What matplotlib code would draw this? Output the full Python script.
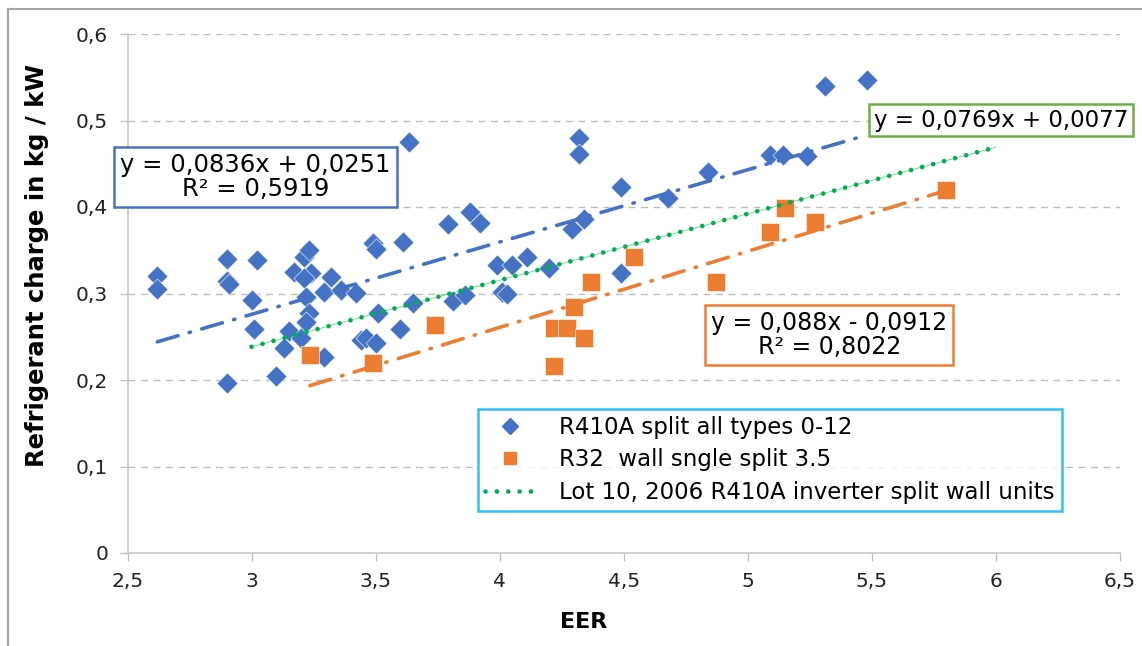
import matplotlib
matplotlib.use('Agg')
import matplotlib.pyplot as plt
from matplotlib.lines import Line2D
from matplotlib.ticker import FuncFormatter
import numpy as np

#--- Data ---
r410_eer = [2.62, 2.62, 2.90, 2.90, 2.91, 2.90, 3.02, 3.00, 3.01, 3.10,
            3.13, 3.15, 3.17, 3.20, 3.21, 3.23, 3.24, 3.21, 3.22, 3.23,
            3.22, 3.29, 3.29, 3.32, 3.36, 3.42, 3.44, 3.46, 3.50, 3.49,
            3.50, 3.51, 3.61, 3.60, 3.65, 3.635, 3.79, 3.88, 3.92, 3.81,
            3.86, 3.99, 4.05, 4.11, 4.01, 4.03, 4.20, 4.29, 4.34, 4.32,
            4.32, 4.49, 4.49, 4.68, 4.84, 5.09, 5.14, 5.24, 5.31, 5.48]
r410_charge = [0.320, 0.305, 0.340, 0.315, 0.311, 0.197, 0.339, 0.292, 0.259, 0.205,
               0.237, 0.257, 0.325, 0.249, 0.342, 0.350, 0.324, 0.318, 0.296, 0.277,
               0.267, 0.302, 0.227, 0.319, 0.304, 0.301, 0.246, 0.249, 0.243, 0.358,
               0.352, 0.278, 0.360, 0.259, 0.289, 0.475, 0.380, 0.394, 0.382, 0.291,
               0.298, 0.333, 0.333, 0.342, 0.302, 0.299, 0.329, 0.375, 0.386, 0.480,
               0.461, 0.423, 0.324, 0.410, 0.440, 0.460, 0.460, 0.459, 0.540, 0.547]

r32_eer = [3.235, 3.49, 3.74, 4.22, 4.27, 4.22, 4.30, 4.34, 4.37, 4.54,
           4.87, 5.09, 5.15, 5.27, 5.80]
r32_charge = [0.229, 0.220, 0.264, 0.260, 0.260, 0.216, 0.284, 0.249, 0.313, 0.342,
              0.313, 0.371, 0.399, 0.383, 0.420]

# trend lines (slope, intercept, x range) as given on the chart
r410_fit = (0.0836, 0.0251, 2.62, 5.48)
r32_fit = (0.088, -0.0912, 3.235, 5.80)
lot10_fit = (0.0769, 0.0077, 3.0, 6.0)

blue = '#4472C4'
orange = '#ED7D31'
green = '#00B050'

plt.rcParams['font.family'] = 'DejaVu Sans'

fig = plt.figure(figsize=(11.42, 6.46), dpi=100)
ax = fig.add_axes([127.5 / 1142, 1 - 553 / 646, 992.5 / 1142, 519 / 646])

ax.scatter(r410_eer, r410_charge, marker='D', s=115, color=blue, edgecolors='white',
           linewidths=0.4, zorder=3, label='R410A split all types 0-12')
ax.scatter(r32_eer, r32_charge, marker='s', s=185, color=orange, edgecolors='white',
           linewidths=0.4, zorder=3, label='R32  wall sngle split 3.5')

def fit_line(fit):
    m, b, x0, x1 = fit
    xs = np.array([x0, x1])
    return xs, m * xs + b

xs, ys = fit_line(r410_fit)
ax.plot(xs, ys, color=blue, lw=2.6, dashes=(6, 3.2, 0.4, 3.2), dash_capstyle='round', zorder=4)
xs, ys = fit_line(r32_fit)
ax.plot(xs, ys, color=orange, lw=2.6, dashes=(6, 3.2, 0.4, 3.2), dash_capstyle='round', zorder=4)
xs, ys = fit_line(lot10_fit)
ax.plot(xs, ys, color=green, lw=0.6, alpha=0.6, zorder=4)
ax.plot(xs, ys, color=green, lw=3.4, dashes=(0.01, 2.4), dash_capstyle='round', zorder=4,
        label='Lot 10, 2006 R410A inverter split wall units')

ax.set_xlim(2.5, 6.5)
ax.set_ylim(0, 0.6)
ax.set_xticks(np.arange(2.5, 6.51, 0.5))
ax.set_yticks(np.arange(0, 0.61, 0.1))
comma = FuncFormatter(lambda v, p: ('%g' % round(v, 2)).replace('.', ','))
ax.xaxis.set_major_formatter(comma)
ax.yaxis.set_major_formatter(comma)
ax.tick_params(labelsize=14.5, colors='#BFBFBF', labelcolor='#222222', length=6, width=1)
ax.tick_params(axis='x', pad=8)
ax.tick_params(axis='y', pad=8)
ax.yaxis.grid(True, color='#BDBDBD', linestyle=(0, (5, 4)), lw=1)
ax.set_axisbelow(True)
for s in ['top', 'right']:
    ax.spines[s].set_visible(False)
for s in ['left', 'bottom']:
    ax.spines[s].set_color('#C8C8C8')
    ax.spines[s].set_linewidth(1.2)

ax.set_xlabel('EER', fontsize=16, fontweight='bold')
ax.xaxis.set_label_coords(0.46, -0.113)
ax.set_ylabel('Refrigerant charge in kg / kW', fontsize=17.5, fontweight='bold')
ax.yaxis.set_label_coords(-0.079, 0.555)

ax.text(0.129, 0.725, 'y = 0,0836x + 0,0251\nR² = 0,5919', transform=ax.transAxes,
        ha='center', va='center', fontsize=17.5, linespacing=1.0, clip_on=False, zorder=6,
        bbox=dict(boxstyle='square,pad=0.25', fc='white', ec=blue, lw=1.8))
ax.text(0.880, 0.834, 'y = 0,0769x + 0,0077', transform=ax.transAxes,
        ha='center', va='center', fontsize=16.5, clip_on=False, zorder=6,
        bbox=dict(boxstyle='square,pad=0.2', fc='white', ec='#70AD47', lw=1.8))
ax.text(0.707, 0.420, 'y = 0,088x - 0,0912\nR² = 0,8022', transform=ax.transAxes,
        ha='center', va='center', fontsize=17, linespacing=1.0, clip_on=False, zorder=6,
        bbox=dict(boxstyle='square,pad=0.25', fc='white', ec=orange, lw=1.8))

handles = [
    Line2D([], [], marker='D', color=blue, ls='none', ms=8),
    Line2D([], [], marker='s', color=orange, ls='none', ms=9),
    Line2D([], [], color=green, lw=3.4, dashes=(0.01, 2.4), dash_capstyle='round'),
]
labels = ['R410A split all types 0-12', 'R32  wall sngle split 3.5',
          'Lot 10, 2006 R410A inverter split wall units']
leg = ax.legend(handles, labels, loc='upper left', bbox_to_anchor=(0.353, 0.2775),
                borderaxespad=0, fontsize=16.5, frameon=True, fancybox=False,
                handlelength=2.2, handletextpad=1.05, labelspacing=0.42, borderpad=0.3)
leg.get_frame().set_edgecolor('#00B0F0')
leg.get_frame().set_linewidth(1.8)
leg.set_zorder(7)

# outer chart border (cropped at right/bottom)
fig.add_artist(Line2D([8 / 1142, 8 / 1142], [0, 1 - 9 / 646], transform=fig.transFigure,
                      color='#A6A6A6', lw=1.5))
fig.add_artist(Line2D([8 / 1142, 1], [1 - 9 / 646, 1 - 9 / 646], transform=fig.transFigure,
                      color='#A6A6A6', lw=1.5))

fig.savefig('out.png', dpi=100)
